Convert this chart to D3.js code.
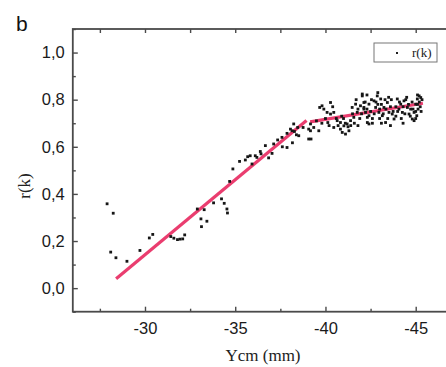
<!DOCTYPE html>
<html><head><meta charset="utf-8">
<script src="https://cdn.jsdelivr.net/npm/d3@7"></script>
<style>body{margin:0;background:#fff}svg{display:block}</style>
</head><body><svg id="c" width="446" height="367"></svg>
<script>
// Data
const ptX = [-27.9,-28.24,-28.1,-28.39,-29.0,-29.72,-30.24,-30.43,-31.43,-31.6,-31.8,-31.94,-32.09,-32.2,-32.9,-33.28,-33.1,-33.43,-33.13,-33.8,-34.24,-34.39,-34.54,-34.57,
-34.69,-34.87,-35.24,-35.56,-35.69,-35.83,-35.93,-36.11,-36.2,-36.39,-36.43,-36.67,-36.85,-37.04,-37.13,-37.35,-37.59,-37.61,-37.87,-37.87,-38.06,-38.17,-38.28,-38.39,-38.46,-38.52,-38.76,-38.24,-38.15,
-39.07,-39.07,-39.17,-39.35,-39.17,-39.2,-39.63,-39.68,-39.81,-39.91,-40.09,-40.28,-40.13,-40.28,-40.46,-40.65,-40.46,-40.83,-40.83,-40.93,-41.02,-41.2,-41.3,-41.39,-41.57,-41.48,-41.67,-41.94,-42.04,-42.13,-42.22,-42.32,-42.41,-41.76,-41.11,
-42.04,-42.13,-42.13,-42.32,-42.41,-42.69,-42.78,-42.87,-42.96,-43.06,-43.15,-43.24,-43.33,-43.43,-43.52,-43.7,-43.8,-43.98,-44.07,-44.17,-44.26,-44.35,-44.54,-44.63,-44.72,-44.81,-44.91,-45.0,-45.09,-45.19,-45.28,-45.13,-45.06,-44.91,-42.41,
-40.6,-40.7,-41.0,-41.1,-41.25,-41.4,-41.5,-41.6,-41.8,-41.9,-42.0,-42.2,-42.3,-42.5,-42.55,-42.6,-42.7,-42.8,-42.9,-43.0,-43.0,-43.1,-43.2,-43.3,-43.35,-43.45,-43.6,-43.65,-43.75,-43.9,-43.9,-44.0,-44.1,-44.2,-44.3,-44.4,-44.45,-44.6,-44.7,-44.8,-44.85,-45.0,-45.1,-45.2,-45.25,-45.3,-45.35,-45.1,-44.5,-43.5,-42.9,-42.3,-41.7,-40.4,-40.0,-39.8,-39.5,-40.2,-40.9,-41.8,-42.6,-43.1,-43.6,-44.3,-45.0];
const ptY = [0.358,0.318,0.153,0.129,0.114,0.16,0.213,0.228,0.219,0.212,0.206,0.208,0.209,0.226,0.336,0.333,0.294,0.284,0.261,0.362,0.379,0.36,0.336,0.319,
0.453,0.506,0.538,0.544,0.558,0.562,0.527,0.562,0.555,0.58,0.57,0.605,0.553,0.572,0.612,0.629,0.64,0.6,0.597,0.657,0.675,0.617,0.665,0.651,0.682,0.647,0.682,0.697,0.668,
0.675,0.633,0.697,0.682,0.668,0.633,0.668,0.767,0.774,0.76,0.746,0.788,0.703,0.739,0.746,0.711,0.682,0.703,0.675,0.661,0.689,0.697,0.668,0.711,0.725,0.767,0.781,0.774,0.816,0.767,0.746,0.725,0.781,0.746,0.654,
0.824,0.788,0.76,0.703,0.732,0.795,0.767,0.816,0.746,0.803,0.732,0.767,0.703,0.788,0.746,0.739,0.718,0.803,0.76,0.781,0.746,0.795,0.767,0.739,0.76,0.718,0.746,0.781,0.803,0.816,0.809,0.76,0.732,0.711,0.697,
0.72,0.69,0.72,0.70,0.685,0.69,0.74,0.70,0.76,0.72,0.74,0.79,0.76,0.75,0.80,0.72,0.74,0.79,0.78,0.76,0.72,0.78,0.74,0.80,0.76,0.72,0.77,0.80,0.75,0.77,0.73,0.75,0.79,0.72,0.77,0.74,0.80,0.78,0.73,0.79,0.76,0.75,0.78,0.79,0.77,0.75,0.80,0.82,0.81,0.81,0.83,0.82,0.80,0.77,0.72,0.70,0.71,0.69,0.73,0.69,0.70,0.70,0.69,0.70,0.72];
const fit1 = [[-28.4,0.04],[-38.95,0.712]];
const fit2 = [[-39.15,0.706],[-45.4,0.785]];
const xMajor = [-30,-35,-40,-45];
const xMinor = [-27.5,-32.5,-37.5,-42.5];
const yMajor = [0.0,0.2,0.4,0.6,0.8,1.0];
const yMinor = [-0.1,0.1,0.3,0.5,0.7,0.9,1.1];
const panelLabel = "b", xTitle = "Ycm (mm)", yTitle = "r(k)", legendLabel = "r(k)";

const svg = d3.select("#c");
const L=72.8, R=451.8, T=29, B=311.7;
const x = d3.scaleLinear().domain([-26,-47]).range([L,R]);
const y = d3.scaleLinear().domain([-0.1,1.1]).range([B,T]);
const axCol = "#4a4a4a";
const sans = "Liberation Sans, Arial, sans-serif", serif = "Liberation Serif, Times New Roman, serif";
const fmtY = v => d3.format(".1f")(v).replace(".", ",");

// Fit lines
const line = d3.line().x(d=>x(d[0])).y(d=>y(d[1]));
[fit1,fit2].forEach(s=>svg.append("path").attr("d",line(s)).attr("fill","none")
  .attr("stroke","#ea3d6f").attr("stroke-width",3.2).attr("stroke-linecap","butt"));

// Points
svg.append("g").selectAll("rect").data(d3.range(ptX.length)).join("rect")
  .attr("x",i=>x(ptX[i])-1.4).attr("y",i=>y(ptY[i])-1.4).attr("width",2.8).attr("height",2.8)
  .attr("fill","#161616");

// Axes
function styleAxis(g){
  g.select(".domain").remove();
  g.selectAll("line").attr("stroke",axCol).attr("stroke-width",1.4);
  g.selectAll("text").attr("fill","#1a1a1a").attr("font-family",sans).attr("font-size",16.5);
}
svg.append("g").attr("transform",`translate(0,${B})`)
  .call(d3.axisBottom(x).tickValues(xMajor).tickSizeInner(-5).tickSizeOuter(0).tickPadding(11).tickFormat(d=>String(d)))
  .call(styleAxis);
svg.append("g").attr("transform",`translate(0,${B})`)
  .call(d3.axisBottom(x).tickValues(xMinor).tickSizeInner(-3).tickSizeOuter(0).tickFormat(""))
  .call(styleAxis);
svg.append("g").attr("transform",`translate(0,${T})`)
  .call(d3.axisTop(x).tickValues(xMajor.concat(xMinor)).tickSizeInner(-4).tickSizeOuter(0).tickFormat(""))
  .call(styleAxis);
svg.append("g").attr("transform",`translate(${L},0)`)
  .call(d3.axisLeft(y).tickValues(yMajor).tickSizeInner(-5).tickSizeOuter(0).tickPadding(8).tickFormat(fmtY))
  .call(styleAxis);
svg.append("g").attr("transform",`translate(${L},0)`)
  .call(d3.axisLeft(y).tickValues(yMinor).tickSizeInner(-3).tickSizeOuter(0).tickFormat(""))
  .call(styleAxis);

// Frame
svg.append("rect").attr("x",L).attr("y",T).attr("width",R-L).attr("height",B-T)
  .attr("fill","none").attr("stroke",axCol).attr("stroke-width",1.8);

// Titles
svg.append("text").attr("x",16).attr("y",31).attr("font-family",sans).attr("font-size",21).attr("fill","#111").text(panelLabel);
svg.append("text").attr("x",263).attr("y",361).attr("text-anchor","middle").attr("font-family",serif).attr("font-size",17).attr("fill","#222").text(xTitle);
svg.append("text").attr("transform","translate(30,186) rotate(-90)").attr("text-anchor","middle").attr("font-family",serif).attr("font-size",17).attr("fill","#222").text(yTitle);

// Legend
svg.append("rect").attr("x",374).attr("y",43).attr("width",63).attr("height",19).attr("fill","#fff").attr("stroke","#777").attr("stroke-width",1);
svg.append("rect").attr("x",396).attr("y",52).attr("width",2).attr("height",2).attr("fill","#1e1e1e");
svg.append("text").attr("x",412).attr("y",57).attr("font-family",serif).attr("font-size",13).attr("fill","#222").text(legendLabel);
</script></body></html>
